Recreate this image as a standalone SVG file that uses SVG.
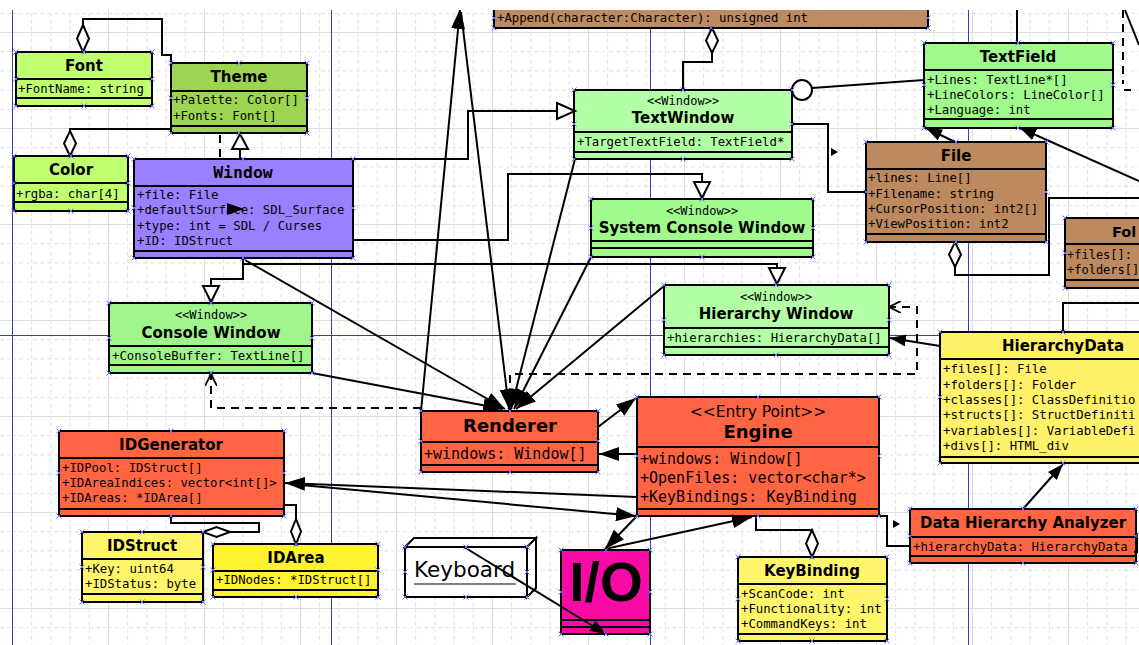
<svg xmlns="http://www.w3.org/2000/svg" xmlns:xlink="http://www.w3.org/1999/xlink" width="1139" height="645" viewBox="0 0 1139 645">
<style>
.bx{stroke:#000;stroke-width:2}
.dv{stroke:#000;stroke-width:2}
.t{font-family:"DejaVu Sans",sans-serif;font-weight:bold;font-size:15px;text-anchor:middle;fill:#000}
.tb{font-family:"DejaVu Sans",sans-serif;font-weight:bold;font-size:18px;text-anchor:middle;fill:#000}
.a{font-family:"DejaVu Sans Mono",monospace;font-size:12.3px;fill:#000}
.ab{font-family:"DejaVu Sans Mono",monospace;font-size:15px;fill:#000}
.s{font-family:"DejaVu Sans Mono",monospace;font-size:12px;text-anchor:middle;fill:#000}
.c{fill:none;stroke:#000;stroke-width:2}
.d{stroke-dasharray:8 6}
.h{fill:#fff;stroke:#000;stroke-width:2}
.blue{stroke:#3a3ac8;stroke-width:1}
.cp{fill:none;stroke:#6a6aff;stroke-width:1}
</style>
<defs>
<pattern id="grid" x="12" y="32" width="96" height="96" patternUnits="userSpaceOnUse">
<path d="M0,0.5H96M0.5,0V96" fill="none" stroke="#d6dede" stroke-width="1"/>
<path d="M0,19.7H96M0,38.9H96M0,58.1H96M0,77.3H96M19.7,0V96M38.9,0V96M58.1,0V96M77.3,0V96" fill="none" stroke="#dce3e3" stroke-width="1" stroke-dasharray="4 3"/>
</pattern>
<marker id="fa" viewBox="0 0 16 12" refX="16" refY="6" markerWidth="16" markerHeight="12" markerUnits="userSpaceOnUse" orient="auto"><path d="M0,0L16,6L0,12z" fill="#000"/></marker>
<marker id="fb" viewBox="0 0 20 14" refX="20" refY="7" markerWidth="20" markerHeight="14" markerUnits="userSpaceOnUse" orient="auto"><path d="M0,0L20,7L0,14z" fill="#000"/></marker>
<marker id="op" viewBox="0 0 12 12" refX="12" refY="6" markerWidth="12" markerHeight="12" markerUnits="userSpaceOnUse" orient="auto"><path d="M0,0L12,6L0,12" fill="none" stroke="#000" stroke-width="1.8"/></marker>
<path id="x" d="M-2.5,-2.5L2.5,2.5M-2.5,2.5L2.5,-2.5" class="cp"/>
</defs>
<rect width="1139" height="645" fill="#fff"/>
<rect x="0" y="10" width="1139" height="635" fill="url(#grid)"/>
<g id="page-breaks">
<path class="blue" d="M12.5,10V645M331.5,10V645M650.5,10V645M968.5,10V645M0,335.5H1139"/>
</g>

<g id="append-box">
<rect x="494" y="-4" width="434" height="32" fill="#bc8b61" class="bx"/>
<text class="a" x="497" y="22">+Append(character:Character): unsigned int</text>
</g>

<g id="font">
<rect x="16" y="52" width="136" height="54" fill="#c0ff70" class="bx"/>
<path class="dv" d="M16,79H152M16,98H152"/>
<text class="t" x="84" y="71">Font</text>
<text class="a" x="18" y="93">+FontName: string</text>
</g>

<g id="theme">
<rect x="171" y="63" width="136" height="70" fill="#9dd553" class="bx"/>
<path class="dv" d="M171,91H307M171,126H307"/>
<text class="t" x="239" y="82">Theme</text>
<text class="a" x="173" y="104">+Palette: Color[]</text>
<text class="a" x="173" y="120">+Fonts: Font[]</text>
</g>

<g id="color">
<rect x="14" y="156" width="114" height="55" fill="#c0ff70" class="bx"/>
<path class="dv" d="M14,183H128M14,202H128"/>
<text class="t" x="71" y="175">Color</text>
<text class="a" x="16" y="198">+rgba: char[4]</text>
</g>

<g id="window">
<rect x="134" y="159" width="219" height="99" fill="#9a80ff" class="bx"/>
<path class="dv" d="M134,186H353M134,251H353"/>
<text x="243" y="178" style="font-family:'DejaVu Sans Mono',monospace;font-weight:bold;font-size:16.5px;text-anchor:middle">Window</text>
<text class="a" x="137" y="199">+file: File</text>
<text class="a" x="137" y="214">+defaultSurface: SDL_Surface</text>
<text class="a" x="137" y="230">+type: int = SDL / Curses</text>
<text class="a" x="137" y="245">+ID: IDStruct</text>
</g>

<g id="textwindow">
<rect x="574" y="90" width="218" height="69" fill="#b2ffa5" class="bx"/>
<path class="dv" d="M574,132H792M574,152H792"/>
<text class="s" x="683" y="105">&lt;&lt;Window&gt;&gt;</text>
<text class="t" x="683" y="123">TextWindow</text>
<text class="a" x="577" y="146">+TargetTextField: TextField*</text>
</g>

<g id="system-console-window">
<rect x="591" y="199" width="222" height="58" fill="#a0fa8c" class="bx"/>
<path class="dv" d="M591,241H813M591,248H813"/>
<text class="s" x="702" y="215">&lt;&lt;Window&gt;&gt;</text>
<text class="t" x="702" y="233">System Console Window</text>
</g>

<g id="textfield">
<rect x="924" y="43" width="189" height="85" fill="#a0fa8c" class="bx"/>
<path class="dv" d="M924,70H1113M924,119H1113"/>
<text class="t" x="1018" y="62">TextField</text>
<text class="a" x="927" y="84">+Lines: TextLine*[]</text>
<text class="a" x="927" y="99">+LineColors: LineColor[]</text>
<text class="a" x="927" y="114">+Language: int</text>
</g>

<g id="file">
<rect x="866" y="142" width="180" height="100" fill="#bc8a5e" class="bx"/>
<path class="dv" d="M866,169H1046M866,234H1046"/>
<text class="t" x="956" y="161">File</text>
<text class="a" x="868" y="182">+lines: Line[]</text>
<text class="a" x="868" y="198">+Filename: string</text>
<text class="a" x="868" y="213">+CursorPosition: int2[]</text>
<text class="a" x="868" y="228">+ViewPosition: int2</text>
</g>

<g id="folder">
<rect x="1065" y="218" width="90" height="70" fill="#bc8a5e" class="bx"/>
<path class="dv" d="M1065,244H1139M1065,280H1139"/>
<text x="1112" y="237" style="font-family:'DejaVu Sans',sans-serif;font-weight:bold;font-size:14.5px">Fol</text>
<text x="1067" y="259" style="font-family:'DejaVu Sans Mono',monospace;font-size:12px">+files[]:</text>
<text x="1067" y="274" style="font-family:'DejaVu Sans Mono',monospace;font-size:12px">+folders[]</text>
</g>

<g id="hierarchydata">
<rect x="940" y="332" width="210" height="131" fill="#fff169" class="bx"/>
<path class="dv" d="M940,359H1139M940,457H1139"/>
<text class="t" x="1063" y="351">HierarchyData</text>
<text class="a" x="943" y="373">+files[]: File</text>
<text class="a" x="943" y="389">+folders[]: Folder</text>
<text class="a" x="943" y="404">+classes[]: ClassDefinitio</text>
<text class="a" x="943" y="419">+structs[]: StructDefiniti</text>
<text class="a" x="943" y="435">+variables[]: VariableDefi</text>
<text class="a" x="943" y="450">+divs[]: HTML_div</text>
</g>

<g id="hierarchy-window">
<rect x="664" y="285" width="225" height="70" fill="#b2ffa5" class="bx"/>
<path class="dv" d="M664,328H889M664,347H889"/>
<text class="s" x="776" y="301">&lt;&lt;Window&gt;&gt;</text>
<text class="t" x="776" y="319">Hierarchy Window</text>
<text class="a" x="667" y="342">+hierarchies: HierarchyData[]</text>
</g>

<g id="console-window">
<rect x="109" y="303" width="203" height="70" fill="#9ff58b" class="bx"/>
<path class="dv" d="M109,346H312M109,365H312"/>
<text class="s" x="211" y="319">&lt;&lt;Window&gt;&gt;</text>
<text class="t" x="211" y="338">Console Window</text>
<text class="a" x="112" y="360">+ConsoleBuffer: TextLine[]</text>
</g>

<g id="renderer">
<rect x="421" y="411" width="177" height="61" fill="#ff6542" class="bx"/>
<path class="dv" d="M421,442H598M421,465H598"/>
<text class="tb" x="510" y="432">Renderer</text>
<text class="ab" x="424" y="459">+windows: Window[]</text>
</g>

<g id="engine">
<rect x="637" y="397" width="242" height="119" fill="#ff6542" class="bx"/>
<path class="dv" d="M637,447H879M637,509H879"/>
<text x="758" y="417" style="font-family:'DejaVu Sans',sans-serif;font-size:15.5px;text-anchor:middle">&lt;&lt;Entry Point&gt;&gt;</text>
<text class="tb" x="758" y="438">Engine</text>
<text class="ab" x="640" y="464">+windows: Window[]</text>
<text class="ab" x="640" y="483">+OpenFiles: vector&lt;char*&gt;</text>
<text class="ab" x="640" y="502">+KeyBindings: KeyBinding</text>
</g>

<g id="idgenerator">
<rect x="59" y="431" width="225" height="85" fill="#ff6542" class="bx"/>
<path class="dv" d="M59,458H284M59,509H284"/>
<text class="t" x="171" y="450">IDGenerator</text>
<text class="a" x="62" y="472">+IDPool: IDStruct[]</text>
<text class="a" x="62" y="487">+IDAreaIndices: vector&lt;int[]&gt;</text>
<text class="a" x="62" y="502">+IDAreas: *IDArea[]</text>
</g>

<g id="idstruct">
<rect x="82" y="532" width="121" height="70" fill="#fff56b" class="bx"/>
<path class="dv" d="M82,559H203M82,594H203"/>
<text class="t" x="142" y="551">IDStruct</text>
<text class="a" x="85" y="573">+Key: uint64</text>
<text class="a" x="85" y="588">+IDStatus: byte</text>
</g>

<g id="idarea">
<rect x="213" y="544" width="165" height="53" fill="#fff230" class="bx"/>
<path class="dv" d="M213,571H378M213,590H378"/>
<text class="t" x="296" y="563">IDArea</text>
<text class="a" x="216" y="584">+IDNodes: *IDStruct[]</text>
</g>

<g id="keyboard">
<path d="M405,547L414,538H536L527,547ZM527,547L536,538V588L527,597Z" class="h"/>
<rect x="405" y="547" width="122" height="50" class="h"/>
<text x="414" y="577" style="font-family:'DejaVu Sans',sans-serif;font-size:21.5px">Keyboard</text>
<path d="M414,584H516" stroke="#808080" stroke-width="2"/>
</g>

<g id="io">
<rect x="561" y="550" width="89" height="84" fill="#f70aa6" class="bx"/>
<path class="dv" d="M561,620H650M561,627H650"/>
<text x="606" y="601" style="font-family:'Liberation Sans',sans-serif;font-weight:bold;font-size:55px;text-anchor:middle">I/O</text>
</g>

<g id="keybinding">
<rect x="738" y="557" width="149" height="84" fill="#fff56b" class="bx"/>
<path class="dv" d="M738,584H887M738,634H887"/>
<text class="t" x="812" y="576">KeyBinding</text>
<text class="a" x="741" y="598">+ScanCode: int</text>
<text class="a" x="741" y="613">+Functionality: int</text>
<text class="a" x="741" y="628">+CommandKeys: int</text>
</g>

<g id="data-hierarchy-analyzer">
<rect x="910" y="509" width="226" height="54" fill="#ff6542" class="bx"/>
<path class="dv" d="M910,537H1136M910,556H1136"/>
<text class="t" x="1023" y="528">Data Hierarchy Analyzer</text>
<text class="a" x="913" y="551">+hierarchyData: HierarchyData</text>
</g>

<g id="connectors">
<polyline class="c" points="171,63 171,55 162,55 162,19 83,19 83,25"/>
<path class="h" d="M83,25L89,38.5L83,52L77,38.5Z"/>
<polyline class="c" points="171,129 70,129 70,131"/>
<path class="h" d="M70,131L76,143.5L70,156L64,143.5Z"/>
<path class="h" d="M712,28L718,40.5L712,53L706,40.5Z"/>
<polyline class="c" points="712,53 712,62 683,62 683,90"/>
<path class="h" d="M955,242L961,254.5L955,267L949,254.5Z"/>
<polyline class="c" points="955,267 955,275 1049,275 1049,198 1139,198"/>
<polyline class="c" points="171,516 171,523 259,523 259,532 230,532"/>
<path class="h" d="M230,532L216.5,527L203,532L216.5,537Z"/>
<polyline class="c" points="284,505 296,505 296,519"/>
<path class="h" d="M296,519L301,531.5L296,544L291,531.5Z"/>
<polyline class="c" points="756,516 756,530 812,530"/>
<path class="h" d="M812,530L818,543.5L812,557L806,543.5Z"/>
<line class="c" x1="240" y1="159" x2="240" y2="149"/>
<path class="h" d="M240,134L248,149H232Z"/>
<line class="c d" x1="220" y1="135" x2="220" y2="159"/>
<polyline class="c" points="353,159 468,159 468,111 557,111"/>
<path class="h" d="M557,103L575,111L557,119Z"/>
<polyline class="c" points="353,240 508,240 508,174 702,174 702,182"/>
<path class="h" d="M694,182H710L702,198Z"/>
<polyline class="c" points="243,258 243,264 777,264 777,268"/>
<path class="h" d="M769,268H785L777,284Z"/>
<polyline class="c" points="243,258 243,279 211,279 211,286"/>
<path class="h" d="M203,286H219L211,302Z"/>
<line class="c" x1="245" y1="260" x2="505" y2="409" marker-end="url(#fb)"/>
<line class="c" x1="312" y1="373" x2="503" y2="409" marker-end="url(#fb)"/>
<line class="c" x1="575" y1="159" x2="511" y2="409" marker-end="url(#fb)"/>
<line class="c" x1="591" y1="257" x2="514" y2="409" marker-end="url(#fb)"/>
<line class="c" x1="664" y1="286" x2="516" y2="409" marker-end="url(#fb)"/>
<line class="c" x1="421" y1="411" x2="460" y2="9" marker-end="url(#fb)"/>
<line class="c" x1="461" y1="12" x2="509" y2="409" marker-end="url(#fb)"/>
<polyline class="c d" points="510,411 510,374 917,374 917,307 889,307" marker-end="url(#op)"/>
<polyline class="c d" points="421,408 211,408 211,374" marker-end="url(#op)"/>
<line class="c" x1="598" y1="427" x2="636" y2="398" marker-end="url(#fb)"/>
<line class="c" x1="637" y1="454" x2="599" y2="454" marker-end="url(#fb)"/>
<line class="c" x1="637" y1="497" x2="285" y2="483" marker-end="url(#fb)"/>
<line class="c" x1="290" y1="484" x2="636" y2="516" marker-end="url(#fb)"/>
<line class="c" x1="636" y1="517" x2="605" y2="549" marker-end="url(#fb)"/>
<line class="c" x1="605" y1="549" x2="752" y2="517" marker-end="url(#fb)"/>
<polyline class="c" points="879,516 887,516 887,546 910,546"/>
<path d="M893,520L900,524L893,528Z" fill="#000"/>
<polyline class="c" points="792,124 828,124 828,192 866,192"/>
<path d="M831,148L838,152L831,156Z" fill="#000"/>
<circle cx="802" cy="90" r="10" class="h"/>
<line class="c" x1="812" y1="88" x2="924" y2="80"/>
<line class="c" x1="955" y1="142" x2="926" y2="128" marker-end="url(#fa)"/>
<line class="c" x1="1139" y1="181" x2="1020" y2="128" marker-end="url(#fa)"/>
<polyline class="c" points="1063,332 1063,303 1139,303"/>
<line class="c" x1="940" y1="346" x2="890" y2="338" marker-end="url(#fa)"/>
<line class="c" x1="1023" y1="509" x2="1063" y2="464" marker-end="url(#fa)"/>
<line class="c" x1="464" y1="547" x2="606" y2="634" marker-end="url(#fa)"/>
<path d="M227,203L244,209L227,215Z" fill="#000"/>
<line class="c" x1="1017" y1="10" x2="1017" y2="43"/>
<line class="c d" x1="1123" y1="10" x2="1123" y2="84"/>
<line class="c" x1="1124" y1="90" x2="1131" y2="90"/>
<line class="c" x1="1125" y1="10" x2="1139" y2="45"/>
<polyline class="c" points="1134,552 1137,552 1137,533"/>
</g>

<g id="connection-points">
<use href="#x" x="16" y="52"/><use href="#x" x="84" y="52"/><use href="#x" x="152" y="52"/><use href="#x" x="16" y="79"/><use href="#x" x="152" y="79"/><use href="#x" x="16" y="106"/><use href="#x" x="84" y="106"/><use href="#x" x="152" y="106"/>
<use href="#x" x="171" y="63"/><use href="#x" x="239" y="63"/><use href="#x" x="307" y="63"/><use href="#x" x="171" y="98"/><use href="#x" x="307" y="98"/><use href="#x" x="171" y="133"/><use href="#x" x="239" y="133"/><use href="#x" x="307" y="133"/>
<use href="#x" x="14" y="156"/><use href="#x" x="71" y="156"/><use href="#x" x="128" y="156"/><use href="#x" x="14" y="183"/><use href="#x" x="128" y="183"/><use href="#x" x="14" y="211"/><use href="#x" x="71" y="211"/><use href="#x" x="128" y="211"/>
<use href="#x" x="134" y="159"/><use href="#x" x="243" y="159"/><use href="#x" x="353" y="159"/><use href="#x" x="134" y="208"/><use href="#x" x="353" y="208"/><use href="#x" x="134" y="258"/><use href="#x" x="243" y="258"/><use href="#x" x="353" y="258"/>
<use href="#x" x="574" y="90"/><use href="#x" x="683" y="90"/><use href="#x" x="792" y="90"/><use href="#x" x="574" y="124"/><use href="#x" x="792" y="124"/><use href="#x" x="574" y="159"/><use href="#x" x="683" y="159"/><use href="#x" x="792" y="159"/>
<use href="#x" x="591" y="199"/><use href="#x" x="702" y="199"/><use href="#x" x="813" y="199"/><use href="#x" x="591" y="228"/><use href="#x" x="813" y="228"/><use href="#x" x="591" y="257"/><use href="#x" x="702" y="257"/><use href="#x" x="813" y="257"/>
<use href="#x" x="924" y="43"/><use href="#x" x="1018" y="43"/><use href="#x" x="1113" y="43"/><use href="#x" x="924" y="85"/><use href="#x" x="1113" y="85"/><use href="#x" x="924" y="128"/><use href="#x" x="1018" y="128"/><use href="#x" x="1113" y="128"/>
<use href="#x" x="866" y="142"/><use href="#x" x="956" y="142"/><use href="#x" x="1046" y="142"/><use href="#x" x="866" y="192"/><use href="#x" x="1046" y="192"/><use href="#x" x="866" y="242"/><use href="#x" x="956" y="242"/><use href="#x" x="1046" y="242"/>
<use href="#x" x="1065" y="218"/><use href="#x" x="1065" y="253"/><use href="#x" x="1065" y="288"/>
<use href="#x" x="940" y="332"/><use href="#x" x="1063" y="332"/><use href="#x" x="940" y="397"/><use href="#x" x="940" y="463"/><use href="#x" x="1063" y="463"/>
<use href="#x" x="664" y="285"/><use href="#x" x="776" y="285"/><use href="#x" x="889" y="285"/><use href="#x" x="664" y="320"/><use href="#x" x="889" y="320"/><use href="#x" x="664" y="355"/><use href="#x" x="776" y="355"/><use href="#x" x="889" y="355"/>
<use href="#x" x="109" y="303"/><use href="#x" x="211" y="303"/><use href="#x" x="312" y="303"/><use href="#x" x="109" y="338"/><use href="#x" x="312" y="338"/><use href="#x" x="109" y="373"/><use href="#x" x="211" y="373"/><use href="#x" x="312" y="373"/>
<use href="#x" x="421" y="411"/><use href="#x" x="510" y="411"/><use href="#x" x="598" y="411"/><use href="#x" x="421" y="441"/><use href="#x" x="598" y="441"/><use href="#x" x="421" y="472"/><use href="#x" x="510" y="472"/><use href="#x" x="598" y="472"/>
<use href="#x" x="637" y="397"/><use href="#x" x="758" y="397"/><use href="#x" x="879" y="397"/><use href="#x" x="637" y="456"/><use href="#x" x="879" y="456"/><use href="#x" x="637" y="516"/><use href="#x" x="758" y="516"/><use href="#x" x="879" y="516"/>
<use href="#x" x="59" y="431"/><use href="#x" x="171" y="431"/><use href="#x" x="284" y="431"/><use href="#x" x="59" y="473"/><use href="#x" x="284" y="473"/><use href="#x" x="59" y="516"/><use href="#x" x="171" y="516"/><use href="#x" x="284" y="516"/>
<use href="#x" x="82" y="532"/><use href="#x" x="142" y="532"/><use href="#x" x="203" y="532"/><use href="#x" x="82" y="567"/><use href="#x" x="203" y="567"/><use href="#x" x="82" y="602"/><use href="#x" x="142" y="602"/><use href="#x" x="203" y="602"/>
<use href="#x" x="213" y="544"/><use href="#x" x="296" y="544"/><use href="#x" x="378" y="544"/><use href="#x" x="213" y="570"/><use href="#x" x="378" y="570"/><use href="#x" x="213" y="597"/><use href="#x" x="296" y="597"/><use href="#x" x="378" y="597"/>
<use href="#x" x="738" y="557"/><use href="#x" x="812" y="557"/><use href="#x" x="887" y="557"/><use href="#x" x="738" y="599"/><use href="#x" x="887" y="599"/><use href="#x" x="738" y="641"/><use href="#x" x="812" y="641"/><use href="#x" x="887" y="641"/>
<use href="#x" x="910" y="509"/><use href="#x" x="1023" y="509"/><use href="#x" x="1136" y="509"/><use href="#x" x="910" y="536"/><use href="#x" x="1136" y="536"/><use href="#x" x="910" y="563"/><use href="#x" x="1023" y="563"/><use href="#x" x="1136" y="563"/>
<use href="#x" x="561" y="550"/><use href="#x" x="606" y="550"/><use href="#x" x="650" y="550"/><use href="#x" x="561" y="592"/><use href="#x" x="650" y="592"/><use href="#x" x="561" y="634"/><use href="#x" x="606" y="634"/><use href="#x" x="650" y="634"/>
<use href="#x" x="405" y="547"/><use href="#x" x="466" y="547"/><use href="#x" x="527" y="547"/><use href="#x" x="405" y="572"/><use href="#x" x="527" y="572"/><use href="#x" x="405" y="597"/><use href="#x" x="466" y="597"/><use href="#x" x="527" y="597"/>
<use href="#x" x="494" y="28"/><use href="#x" x="711" y="28"/><use href="#x" x="928" y="28"/><use href="#x" x="494" y="18"/><use href="#x" x="928" y="18"/>
</g>
<rect x="0" y="0" width="1139" height="10" fill="#fff"/>
</svg>
